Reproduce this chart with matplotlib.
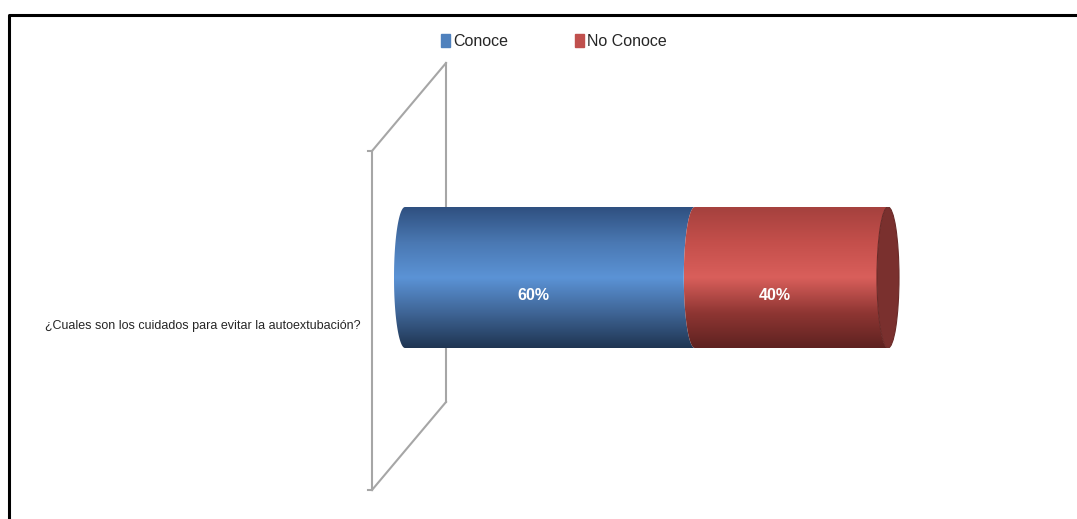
import numpy as np
import matplotlib.pyplot as plt
from matplotlib import font_manager
from matplotlib.path import Path
from matplotlib.patches import PathPatch, Ellipse, Rectangle
from matplotlib.colors import LinearSegmentedColormap

categories = ["¿Cuales son los cuidados para evitar la autoextubación?"]
series = ["Conoce", "No Conoce"]
values = [60, 40]
labels = ["60%", "40%"]

names = {f.name for f in font_manager.fontManager.ttflist}
narrow = "Liberation Sans Narrow" in names
fam = "Liberation Sans Narrow" if narrow else "Liberation Sans"
plt.rcParams['font.family'] = [fam, 'DejaVu Sans']
cat_size = 12.5 if narrow else 9.0
leg_size = 14 if narrow else 11.5

W, H = 1077, 519
fig = plt.figure(figsize=(W / 100, H / 100), dpi=100)

# overlay in pixel coords for frame, 3d wall, legend, category label
bg = fig.add_axes([0, 0, 1, 1])
bg.set_xlim(0, W)
bg.set_ylim(H, 0)
bg.axis("off")
bg.plot([9, 9, W + 5], [H + 5, 15, 15], color="black", lw=2.2, solid_capstyle="butt")

wall = "#a6a6a6"
bg.plot([372, 372], [151, 490], color=wall, lw=1.5)
bg.plot([446, 446], [63, 402], color=wall, lw=1.5)
bg.plot([372, 446], [151, 63], color=wall, lw=1.5)
bg.plot([372, 446], [490, 402], color=wall, lw=1.5)
bg.plot([368, 372], [151, 151], color=wall, lw=1.5)
bg.plot([368, 372], [490, 490], color=wall, lw=1.5)

bg.text(361, 326, categories[0], ha="right", va="center", fontsize=cat_size, color="#262626")

# legend
leg_colors = ["#4f81bd", "#c0504d"]
for (x, name, c) in [(441, series[0], leg_colors[0]), (575, series[1], leg_colors[1])]:
    bg.add_patch(Rectangle((x, 34), 9, 13, color=c))
    bg.text(x + 12, 41, name, ha="left", va="center", fontsize=leg_size, color="#262626")

# bar axes: x in percent, padded so the curved ends stay inside the axes
x0px, x1px, ytop, ybot = 405, 888, 207, 348
pad = 20
ax = fig.add_axes([(x0px - pad) / W, 1 - ybot / H, (x1px - x0px + 2 * pad) / W, (ybot - ytop) / H])
pu = pad / (x1px - x0px) * 100
ax.set_xlim(-pu, 100 + pu)
ax.set_ylim(-0.5, 0.5)
ax.axis("off")

a = 11 / (x1px - x0px) * 100  # ellipse half-width in data units

blue = LinearSegmentedColormap.from_list("b", ["#1f3552", "#3f6596", "#5b93d6", "#4a78b2", "#2f5080"])
red = LinearSegmentedColormap.from_list("r", ["#5e2220", "#8f3633", "#d95f5b", "#c44f4b", "#a5413e"])
cmaps = [blue, red]

grad = np.linspace(0, 1, 256).reshape(-1, 1)
t = np.linspace(np.pi / 2, 3 * np.pi / 2, 60)

left = 0
for v, cm, lab in zip(values, cmaps, labels):
    right = left + v
    xs_r = right + a * np.cos(t)
    ys_r = 0.5 * np.sin(t)
    xs_l = left + a * np.cos(t[::-1])
    ys_l = 0.5 * np.sin(t[::-1])
    verts = np.vstack([[left, 0.5], np.column_stack([xs_r, ys_r]), np.column_stack([xs_l, ys_l])])
    patch = PathPatch(Path(verts), facecolor="none", edgecolor="none")
    ax.add_patch(patch)
    im = ax.imshow(grad, cmap=cm, aspect="auto", extent=[left - a, right, -0.5, 0.5],
                   origin="lower", zorder=1)
    im.set_clip_path(patch)
    ax.text((left + right) / 2 - 1.5 * a, -0.13, lab, ha="center", va="center", color="white",
            fontsize=11.5, fontweight="bold", zorder=5)
    left = right

ax.set_xlim(-pu, 100 + pu)
ax.set_ylim(-0.5, 0.5)
cap = Ellipse((100, 0), 2 * a, 1, facecolor="#7a302e", edgecolor="#6a2a28", lw=0.8, zorder=3)
ax.add_patch(cap)

fig.savefig("out.png", dpi=100)
